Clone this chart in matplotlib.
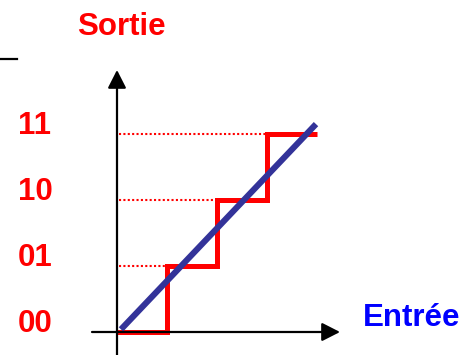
import matplotlib
matplotlib.use("Agg")
import matplotlib.pyplot as plt

# output codes and where the steps happen on the input axis
codes = ["00", "01", "10", "11"]
levels = [0, 1, 2, 3]
step_x = [0, 1, 2, 3, 4]

# ideal (linear) transfer line
ideal_x = [0.08, 3.98]
ideal_y = [0.04, 3.15]

RED = "#ff0000"
NAVY = "#333399"
BLUE = "#0000ff"

plt.rcParams["font.family"] = ["Liberation Sans", "DejaVu Sans"]

fig = plt.figure(figsize=(4.71, 3.55), dpi=100)
ax = fig.add_axes([0, 0, 1, 1])
ax.set_xlim(-2.34, 7.08)
ax.set_ylim(-0.3485, 5.0303)
ax.axis("off")

# axes with arrows
arrow = dict(arrowstyle="-|>,head_length=0.55,head_width=0.28", color="black",
             lw=1.6, shrinkA=0, shrinkB=0, mutation_scale=20)
ax.annotate("", xy=(0, 3.97), xytext=(0, -0.35), arrowprops=arrow)
ax.annotate("", xy=(4.46, 0), xytext=(-0.5, 0), arrowprops=arrow)

# dotted guides from the y axis to each step
for i in range(1, len(levels)):
    ax.plot([0.04, step_x[i]], [levels[i], levels[i]], color=RED, lw=1.5,
            linestyle=(0, (1, 1.1)))

# staircase
sx, sy = [], []
for i, lv in enumerate(levels):
    sx += [step_x[i], step_x[i + 1]]
    sy += [lv, lv]
ax.plot(sx, sy, color=RED, lw=3.6, solid_joinstyle="miter", solid_capstyle="butt")

ax.plot(ideal_x, ideal_y, color=NAVY, lw=4.4, solid_capstyle="butt")

# code labels
for c, lv in zip(codes, levels):
    ax.text(-1.64, lv, c, color=RED, fontsize=22.5, fontweight="bold",
            ha="center", va="baseline")

ax.text(0.09, 4.5, "Sortie", color=RED, fontsize=22.5, fontweight="bold",
        ha="center", va="baseline")
ax.text(4.92, 0.09, "Entrée", color=BLUE, fontsize=22.5, fontweight="bold",
        ha="left", va="baseline")

# small leftover rule at top left
ax.plot([-2.4, -2.0], [4.136, 4.136], color="black", lw=1.6)

fig.savefig("out.png", dpi=100)
